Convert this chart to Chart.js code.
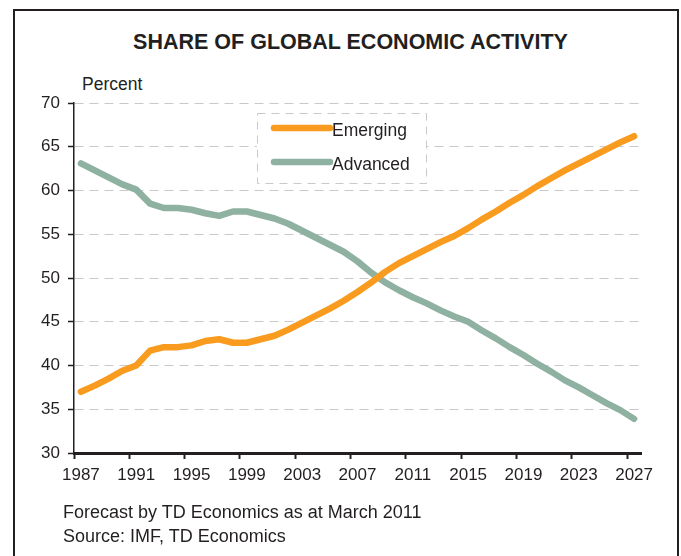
<!DOCTYPE html>
<html>
<head>
<meta charset="utf-8">
<script src="https://cdn.jsdelivr.net/npm/chart.js@4.4.1/dist/chart.umd.min.js"></script>
<style>
    body { margin: 0; background: #fff; font-family: "Liberation Sans", Arial, sans-serif; color: #231f20; }
    .wrap { position: relative; width: 681px; height: 556px; overflow: hidden; }
    .frame { position: absolute; left: 13px; top: 9px; width: 662px; height: 600px; border: 2px solid #231f20; }
    .title { position: absolute; left: 0; width: 701px; top: 32px; text-align: center; font-weight: bold; font-size: 21.5px; line-height: 1; }
    .unit { position: absolute; left: 82px; top: 76px; font-size: 17.5px; line-height: 1; }
    .note { position: absolute; left: 63px; font-size: 18px; line-height: 1; }
    canvas { position: absolute; left: 0; top: 0; }
</style>
</head>
<body>
<div class="wrap">
    <div class="frame"></div>
    <div class="title">SHARE OF GLOBAL ECONOMIC ACTIVITY</div>
    <div class="unit">Percent</div>
    <canvas id="shareChart" width="681" height="556"></canvas>
    <div class="note" style="top: 503px;">Forecast by TD Economics as at March 2011</div>
    <div class="note" style="top: 527px;">Source: IMF, TD Economics</div>
</div>
<script>
    const years = [
        "1987", "1988", "1989", "1990", "1991", "1992", "1993", "1994", "1995", "1996",
        "1997", "1998", "1999", "2000", "2001", "2002", "2003", "2004", "2005", "2006",
        "2007", "2008", "2009", "2010", "2011", "2012", "2013", "2014", "2015", "2016",
        "2017", "2018", "2019", "2020", "2021", "2022", "2023", "2024", "2025", "2026", "2027"
    ];

    const emerging = [
        37.0, 37.7, 38.5, 39.4, 40.0, 41.7, 42.1, 42.1, 42.3, 42.8,
        43.0, 42.6, 42.6, 43.0, 43.4, 44.1, 44.9, 45.7, 46.5, 47.4,
        48.4, 49.5, 50.7, 51.7, 52.5, 53.3, 54.1, 54.8, 55.7, 56.7,
        57.6, 58.6, 59.5, 60.5, 61.4, 62.3, 63.1, 63.9, 64.7, 65.5, 66.2
    ];

    const advanced = [
        63.1, 62.3, 61.5, 60.7, 60.1, 58.5, 58.0, 58.0, 57.8, 57.4,
        57.1, 57.6, 57.6, 57.2, 56.8, 56.2, 55.4, 54.6, 53.8, 53.0,
        51.9, 50.6, 49.5, 48.6, 47.8, 47.1, 46.3, 45.6, 45.0, 44.0,
        43.1, 42.1, 41.2, 40.2, 39.3, 38.3, 37.5, 36.6, 35.7, 34.9, 33.9
    ];

    const yMin = 30;
    const yMax = 70;
    const yStep = 5;
    const labelEvery = 4;

    const ink = "#231f20";
    const font = "Liberation Sans, Arial, sans-serif";

    // legend drawn as a dashed box inside the plot, like the original
    const boxLegend = {
        id: "boxLegend",
        beforeDatasetsDraw(chart) {
            const { ctx, chartArea } = chart;
            const x = chartArea.left + 183;
            const y = chartArea.top + 10;
            const w = 169;
            const h = 70;

            ctx.save();
            ctx.fillStyle = "#fff";
            ctx.fillRect(x, y, w, h);
            ctx.strokeStyle = "#c9c9c9";
            ctx.lineWidth = 1;
            ctx.setLineDash([8, 6]);
            ctx.strokeRect(x + 0.5, y + 0.5, w, h);
            ctx.setLineDash([]);

            chart.data.datasets.forEach((ds, i) => {
                const ly = y + 15 + i * 34;
                ctx.strokeStyle = ds.borderColor;
                ctx.lineWidth = 6.5;
                ctx.lineCap = "round";
                ctx.beginPath();
                ctx.moveTo(x + 17, ly);
                ctx.lineTo(x + 73, ly);
                ctx.stroke();
                ctx.fillStyle = ink;
                ctx.font = "17.5px " + font;
                ctx.textBaseline = "middle";
                ctx.fillText(ds.label, x + 75, ly + 3);
            });
            ctx.restore();
        },
    };

    new Chart(document.querySelector("#shareChart"), {
        type: "line",
        data: {
            labels: years,
            datasets: [
                {
                    label: "Emerging",
                    data: emerging,
                    borderColor: "#f99b1e",
                    borderWidth: 6.5,
                    borderCapStyle: "round",
                    borderJoinStyle: "round",
                    pointRadius: 0,
                    tension: 0,
                },
                {
                    label: "Advanced",
                    data: advanced,
                    borderColor: "#8fb1a2",
                    borderWidth: 6.5,
                    borderCapStyle: "round",
                    borderJoinStyle: "round",
                    pointRadius: 0,
                    tension: 0,
                },
            ],
        },
        options: {
            responsive: false,
            animation: false,
            layout: {
                padding: { left: 0, right: 40, top: 103, bottom: 63 },
            },
            plugins: {
                legend: { display: false },
                tooltip: { enabled: false },
            },
            scales: {
                x: {
                    type: "category",
                    offset: true,
                    afterFit: (scale) => { scale.height = 40; },
                    grid: {
                        offset: true,
                        drawOnChartArea: false,
                        drawTicks: true,
                        tickLength: 6,
                        tickWidth: 2,
                        tickColor: (ctx) =>
                            ctx.index !== undefined && ctx.index % labelEvery === 0 ? ink : "rgba(0,0,0,0)",
                    },
                    border: { display: true, color: ink, width: 3 },
                    ticks: {
                        autoSkip: false,
                        maxRotation: 0,
                        padding: 6,
                        color: ink,
                        font: { family: font, size: 17 },
                        callback: (v, i) => (i % labelEvery === 0 ? years[i] : ""),
                    },
                },
                y: {
                    min: yMin,
                    max: yMax,
                    afterFit: (scale) => { scale.width = 74; },
                    grid: {
                        color: "#c9c9c9",
                        lineWidth: 1,
                        drawTicks: true,
                        tickLength: 6,
                        tickColor: ink,
                        tickWidth: 1.5,
                    },
                    border: { display: true, color: ink, width: 1.5, dash: [9, 6] },
                    ticks: {
                        stepSize: yStep,
                        padding: 8,
                        color: ink,
                        font: { family: font, size: 17 },
                    },
                },
            },
        },
        plugins: [boxLegend],
    });
</script>
</body>
</html>
